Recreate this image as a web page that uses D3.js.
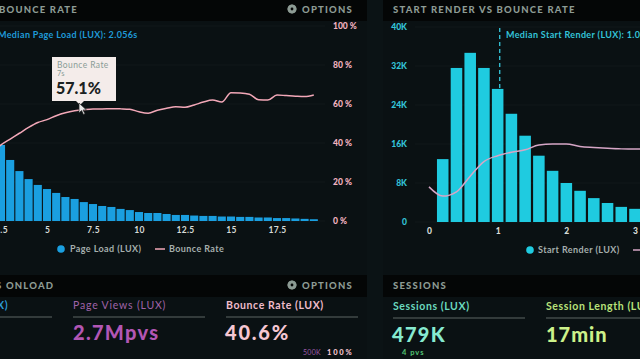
<!DOCTYPE html>
<html><head><meta charset="utf-8">
<script src="https://cdn.jsdelivr.net/npm/d3@7"></script>
<style>
html,body{margin:0;padding:0;background:#070a0b;overflow:hidden}
svg{display:block;font-family:Lato,"Open Sans",sans-serif}
</style></head>
<body>
<svg id="c" width="640" height="359"></svg>
<script>
// ---- data ----
const loadSeconds = [2.5,3,3.5,4,4.5,5,5.5,6,6.5,7,7.5,8,8.5,9,9.5,10,10.5,11,11.5,12,12.5,13,13.5,14,14.5,15,15.5,16,16.5,17,17.5,18,18.5,19,19.5];
const pageLoads = [39,31.3,25.6,21.5,18.5,16.4,14.4,12.3,11.3,9.7,8.7,7.7,7.2,6.2,5.6,4.6,4.1,4.1,3.6,3.1,3.1,2.8,2.6,2.6,2.3,2.3,2.1,2.1,1.8,1.8,1.5,1.5,1.3,1.1,0.9];
const bounceSeconds = [2,2.5,3,3.5,4,4.5,5,5.5,6,6.5,7,7.5,8,8.5,9,9.5,10,10.5,11,11.5,12,12.5,13,13.5,14,14.5,15,15.5,16,16.5,17,17.5,18,18.5,19,19.5];
const bounceRate = [35,39,42,45,48,50.5,52,54,55.5,56.5,57.1,57.5,57.5,57.6,57.5,57.3,56,55.3,56.8,57.8,58.6,58.3,59.5,61,62,61,65.8,65.7,65,62.2,62,64.6,64.3,64,63.8,64.6];
const leftXTicks = [2.5,5,7.5,10,12.5,15,17.5];
const leftYTicks = [0,20,40,60,80,100];

const srSeconds = [0.2,0.4,0.6,0.8,1.0,1.2,1.4,1.6,1.8,2.0,2.2,2.4,2.6,2.8,3.0];
const startRender = [12.9,31.6,34.7,31.6,27.3,22.2,17.7,13.6,10.5,8.0,6.4,4.9,3.9,3.1,2.7];
const srBounceX = [0,0.2,0.4,0.6,0.8,1.0,1.2,1.4,1.6,1.8,2.0,2.2,2.4,2.6,2.8,3.0,3.2];
const srBounce = [18,13.3,15.5,23.5,31,34,35.8,37,39.5,40,40,38.7,38.2,37.8,37.5,37.4,37.4];
const rightXTicks = [0,1,2,3];
const rightYTicks = [0,8,16,24,32,40];

const svg = d3.select("#c");
// panels
svg.append("rect").attr("x",0).attr("y",0).attr("width",640).attr("height",359).attr("fill","#0a1113");
const hdr = [[0,0,367,21],[383,0,257,21],[0,275,367,22],[383,275,257,22]];
svg.selectAll("rect.hdr").data(hdr).join("rect").attr("class","hdr")
  .attr("x",d=>d[0]).attr("y",d=>d[1]).attr("width",d=>d[2]).attr("height",d=>d[3]).attr("fill","#040606");
svg.append("rect").attr("x",367).attr("y",0).attr("width",16).attr("height",359).attr("fill","#0b1315");

const hColor = "#8d9b94";
function txt(x,y,s,opt){
  const t = svg.append("text").attr("x",x).attr("y",y).text(s)
    .attr("fill",opt.fill||"#fff").attr("font-size",opt.size||8).attr("font-weight",opt.w||700);
  if(opt.anchor) t.attr("text-anchor",opt.anchor);
  if(opt.ls!==undefined) t.attr("letter-spacing",opt.ls);
  return t;
}
function gear(cx,cy,col){
  const g = svg.append("g").attr("transform",`translate(${cx},${cy})`);
  for(let i=0;i<8;i++) g.append("rect").attr("x",-1).attr("y",-4.5).attr("width",2).attr("height",9)
     .attr("fill",col).attr("transform",`rotate(${i*22.5})`);
  g.append("circle").attr("r",3.2).attr("fill",col);
  g.append("circle").attr("r",1.4).attr("fill","#040606");
}
txt(-1,13,"BOUNCE RATE",{fill:hColor,size:9.5,w:900,ls:1.2});
gear(292,9,hColor); txt(302,13,"OPTIONS",{fill:hColor,size:9.5,w:900,ls:1.2});
txt(393,13,"START RENDER VS BOUNCE RATE",{fill:hColor,size:9.5,w:900,ls:1.2});

// ---- left chart ----
const xL = d3.scaleLinear().domain([2.5,17.5]).range([1,277]);
const yL = d3.scaleLinear().domain([0,100]).range([221,26]);
const yLoad = d3.scaleLinear().domain([0,100]).range([221,26]);
svg.append("g").selectAll("line").data(leftYTicks).join("line")
  .attr("x1",0).attr("x2",325).attr("y1",d=>yL(d)).attr("y2",d=>yL(d))
  .attr("stroke","#ffffff").attr("stroke-opacity",0.035);
const bw = (xL(3)-xL(2.5))*0.88;
svg.append("g").selectAll("rect").data(loadSeconds).join("rect")
  .attr("x",(d)=>xL(d)-bw/2).attr("width",bw)
  .attr("y",(d,i)=>yLoad(pageLoads[i])).attr("height",(d,i)=>yLoad(0)-yLoad(pageLoads[i]))
  .attr("fill","#1a9fe0");
const lineL = d3.line().x((d,i)=>xL(bounceSeconds[i])).y(d=>yL(d)).curve(d3.curveMonotoneX);
svg.append("path").datum(bounceRate).attr("d",lineL).attr("fill","none")
  .attr("stroke","#f3a8b8").attr("stroke-width",1.5);
const axL = d3.axisBottom(xL).tickValues(leftXTicks).tickSize(0).tickFormat(d3.format("~g"));
const gxL = svg.append("g").attr("transform","translate(0,224)").call(axL);
gxL.select(".domain").remove();
gxL.selectAll("text").attr("fill","#d8dcd8").attr("font-size",8.5).attr("font-weight",700)
  .attr("font-family","Lato").attr("letter-spacing",0.3);
const ayL = d3.axisRight(yL).tickValues(leftYTicks).tickSize(0).tickFormat(d=>d+" %");
const gyL = svg.append("g").attr("transform","translate(330,0)").call(ayL);
gyL.select(".domain").remove();
gyL.selectAll("text").attr("fill","#f2b3c0").attr("font-size",8.5).attr("font-weight",900)
  .attr("font-family","Lato").attr("dx",0);
txt(-2,38,"Median Page Load (LUX): 2.056s",{fill:"#1f9ad8",size:9,w:700,ls:0.35});

// tooltip
const tt = svg.append("g");
tt.append("path").attr("d","M52,57 H116 V101 H84 L80,105 L76,101 H52 Z").attr("fill","#f4ecea");
tt.append("text").attr("x",57).attr("y",68).text("Bounce Rate").attr("fill","#8a9c97").attr("font-size",8.5).attr("font-weight",400).attr("letter-spacing",0.4);
tt.append("text").attr("x",57).attr("y",76).text("7s").attr("fill","#8a9c97").attr("font-size",7.5).attr("font-weight",400);
tt.append("text").attr("x",56).attr("y",94).text("57.1%").attr("fill","#1b2222").attr("font-size",16).attr("font-weight",900);
svg.append("path").attr("d","M79,103 L79,113 L81.5,110.5 L83.5,114.5 L85,113.8 L83,110 L86.5,110 Z")
  .attr("fill","#e8e8e8").attr("stroke","#222").attr("stroke-width",0.7);

// left legend
svg.append("circle").attr("cx",61).attr("cy",249).attr("r",3.8).attr("fill","#1a9fe0");
txt(70,252,"Page Load (LUX)",{fill:"#a5afad",size:9,w:700,ls:0.4});
svg.append("line").attr("x1",155).attr("x2",165).attr("y1",249).attr("y2",249).attr("stroke","#f3a8b8").attr("stroke-width",1.5);
txt(169,252,"Bounce Rate",{fill:"#a5afad",size:9,w:700,ls:0.4});

// ---- right chart ----
const xR = d3.scaleLinear().domain([0,3]).range([429,635]);
const yR = d3.scaleLinear().domain([0,40]).range([222,27]);
const yRB = d3.scaleLinear().domain([0,100]).range([222,27]);
svg.append("g").selectAll("line").data(rightYTicks).join("line")
  .attr("x1",415).attr("x2",640).attr("y1",d=>yR(d)).attr("y2",d=>yR(d))
  .attr("stroke","#ffffff").attr("stroke-opacity",0.035);
svg.append("line").attr("x1",xR(1.03)).attr("x2",xR(1.03)).attr("y1",28).attr("y2",222)
  .attr("stroke","#36c8dc").attr("stroke-width",1.3).attr("stroke-dasharray","4,3");
const bwR = (xR(0.2)-xR(0))*0.84;
svg.append("g").selectAll("rect").data(srSeconds).join("rect")
  .attr("x",d=>xR(d)-bwR/2).attr("width",bwR)
  .attr("y",(d,i)=>yR(startRender[i])).attr("height",(d,i)=>yR(0)-yR(startRender[i]))
  .attr("fill","#1fcbe0");
const lineR = d3.line().x((d,i)=>xR(srBounceX[i])).y(d=>yRB(d)).curve(d3.curveMonotoneX);
svg.append("path").datum(srBounce).attr("d",lineR).attr("fill","none")
  .attr("stroke","#d6a6c6").attr("stroke-width",1.5);
const axR = d3.axisBottom(xR).tickValues(rightXTicks).tickSize(0).tickFormat(d3.format("d"));
const gxR = svg.append("g").attr("transform","translate(0,225)").call(axR);
gxR.select(".domain").remove();
gxR.selectAll("text").attr("fill","#d8dcd8").attr("font-size",8.5).attr("font-weight",900).attr("font-family","Lato");
const ayR = d3.axisLeft(yR).tickValues(rightYTicks).tickSize(0).tickFormat(d=>d===0?"0":d+"K");
const gyR = svg.append("g").attr("transform","translate(410,0)").call(ayR);
gyR.select(".domain").remove();
gyR.selectAll("text").attr("fill","#33c3d8").attr("font-size",8.5).attr("font-weight",900).attr("font-family","Lato").attr("dx",0);
txt(506,38,"Median Start Render (LUX): 1.03s",{fill:"#33c3d8",size:9,w:700,ls:0.35});
svg.append("circle").attr("cx",530).attr("cy",250).attr("r",3.8).attr("fill","#1fcbe0");
txt(538,253,"Start Render (LUX)",{fill:"#a5afad",size:9,w:700,ls:0.4});
svg.append("line").attr("x1",633).attr("x2",643).attr("y1",250).attr("y2",250).attr("stroke","#d6a6c6").attr("stroke-width",1.5);

// ---- bottom panels ----
txt(-4,289,"S ONLOAD",{fill:hColor,size:9.5,w:900,ls:1.2});
gear(292,285,hColor); txt(302,289,"OPTIONS",{fill:hColor,size:9.5,w:900,ls:1.2});
txt(393,289,"SESSIONS",{fill:hColor,size:9.5,w:900,ls:1.2});

const uline = [[0,52,317],[73,205,317],[226,358,317],[393,525,318],[546,640,318]];
svg.selectAll("line.ul").data(uline).join("line").attr("class","ul")
  .attr("x1",d=>d[0]).attr("x2",d=>d[1]).attr("y1",d=>d[2]).attr("y2",d=>d[2])
  .attr("stroke","#5d6765").attr("stroke-width",1.2);

txt(-3,309,"X)",{fill:"#2a9ad8",size:10.5,w:700,ls:0.6});
txt(73,309,"Page Views (LUX)",{fill:"#a063a8",size:10.5,w:400,ls:0.8});
txt(226,309,"Bounce Rate (LUX)",{fill:"#f0bccb",size:10.5,w:700,ls:0.6});
txt(73,340,"2.7Mpvs",{fill:"#b256b4",size:20,w:900,ls:1.3});
txt(225,340,"40.6%",{fill:"#f6c6d2",size:20,w:900,ls:1.8});
txt(303,355,"500K",{fill:"#9c5aa8",size:7,w:400,ls:0.3});
txt(327,355,"100%",{fill:"#f6c6d2",size:7.5,w:900,ls:1.8});

txt(393,310,"Sessions (LUX)",{fill:"#6ad9bf",size:10.5,w:700,ls:0.6});
txt(546,310,"Session Length (LUX)",{fill:"#b9e27a",size:10.5,w:700,ls:0.6});
txt(392,342,"479K",{fill:"#86ead0",size:20,w:900,ls:1.3});
txt(546,342,"17min",{fill:"#cdf28a",size:20,w:900,ls:1.0});
txt(402,355,"4 pvs",{fill:"#52c474",size:7.5,w:700,ls:1});
</script>
</body></html>
